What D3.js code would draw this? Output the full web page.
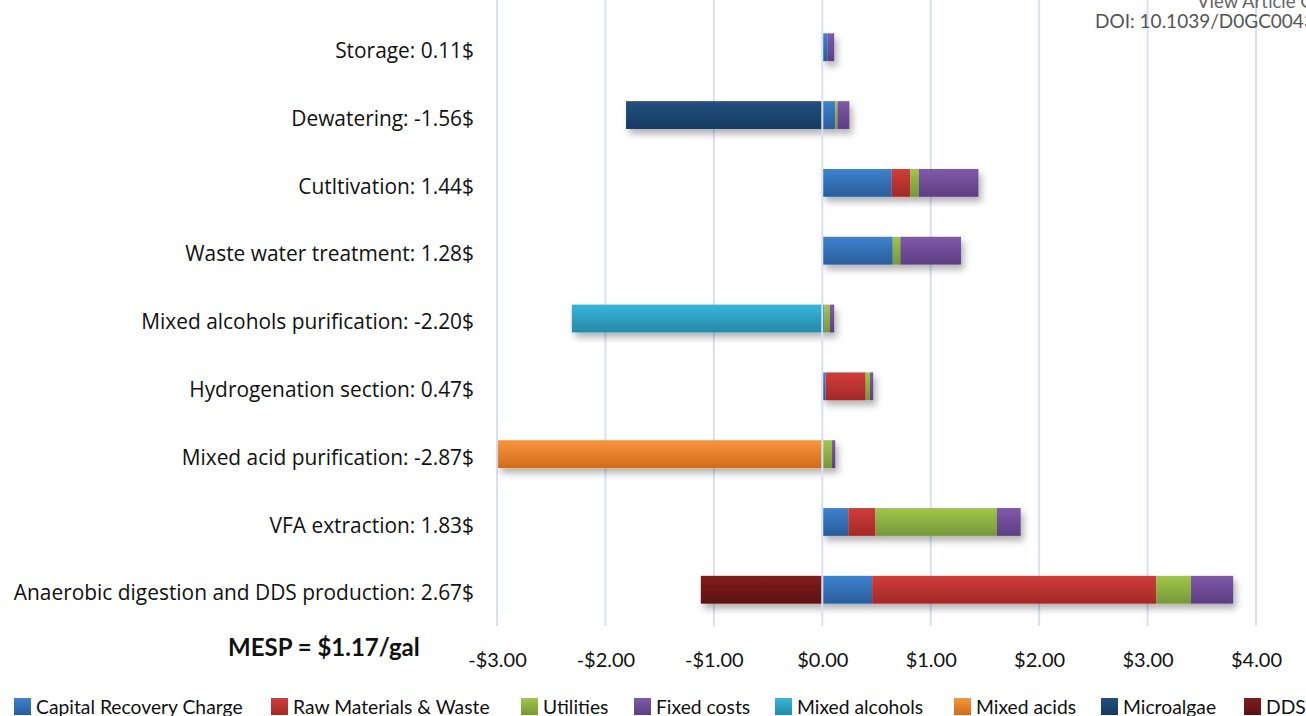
<!DOCTYPE html>
<html>
<head lang="en">
    <meta charset="UTF-8">
    <title>MESP breakdown</title>
    <script type="text/javascript" src="https://cdn.jsdelivr.net/npm/d3@7"></script>
    <style>
        body { margin: 0; background: #fff; }
    </style>
</head>
<body>
<svg id="mainSvg"></svg>
<script>
    var w = 1306, h = 716;

    var categories = ["Storage: 0.11$", "Dewatering: -1.56$", "Cutltivation: 1.44$", "Waste water treatment: 1.28$",
        "Mixed alcohols purification: -2.20$", "Hydrogenation section: 0.47$", "Mixed acid purification: -2.87$",
        "VFA extraction: 1.83$", "Anaerobic digestion and DDS production: 2.67$"];

    var capitalRecovery = [0.05, 0.12, 0.64, 0.65, 0.02, 0.03, 0.01, 0.24, 0.46];
    var rawMaterials    = [0,    0,    0.17, 0,    0,    0.37, 0,    0.25, 2.62];
    var utilities       = [0,    0.02, 0.08, 0.07, 0.05, 0.04, 0.08, 1.12, 0.32];
    var fixedCosts      = [0.06, 0.11, 0.55, 0.56, 0.04, 0.03, 0.03, 0.22, 0.39];
    var mixedAlcohols   = [0,    0,    0,    0,    -2.31, 0,   0,    0,    0];
    var mixedAcids      = [0,    0,    0,    0,    0,    0,    -2.99, 0,   0];
    var microalgae      = [0,    -1.81, 0,   0,    0,    0,    0,    0,    0];
    var dds             = [0,    0,    0,    0,    0,    0,    0,    0,    -1.12];

    var tickValues = [-3, -2, -1, 0, 1, 2, 3, 4];

    var seriesNames = ["Capital Recovery Charge", "Raw Materials & Waste", "Utilities", "Fixed costs",
        "Mixed alcohols", "Mixed acids", "Microalgae", "DDS"];
    var seriesValues = [capitalRecovery, rawMaterials, utilities, fixedCosts, mixedAlcohols, mixedAcids, microalgae, dds];
    var colorsTop = ["#3d82d0", "#d23c3a", "#9fc747", "#8059ab", "#36b6d8", "#f9963a", "#21507f", "#831d1d"];
    var colorsBot = ["#2a5c9a", "#a12a28", "#76973a", "#5c3f80", "#2789a8", "#cf6b1f", "#163a62", "#5a1111"];

    var table = categories.map(function (c, i) {
        var row = {cat: c};
        seriesNames.forEach(function (s, j) { row[s] = seriesValues[j][i]; });
        return row;
    });

    var stacked = d3.stack().keys(seriesNames).offset(d3.stackOffsetDiverging)(table);

    var svg = d3.select("#mainSvg").attr("width", w).attr("height", h)
        .style("font-family", "Lato, sans-serif");

    var defs = svg.append("defs");
    seriesNames.forEach(function (s, j) {
        var g = defs.append("linearGradient").attr("id", "grad" + j)
            .attr("x1", 0).attr("y1", 0).attr("x2", 0).attr("y2", 1);
        g.append("stop").attr("offset", "0%").attr("stop-color", colorsTop[j]);
        g.append("stop").attr("offset", "100%").attr("stop-color", colorsBot[j]);
    });
    var f = defs.append("filter").attr("id", "shadow")
        .attr("x", "-10%").attr("y", "-30%").attr("width", "120%").attr("height", "180%");
    f.append("feDropShadow").attr("dx", 3).attr("dy", 5).attr("stdDeviation", 3.5)
        .attr("flood-color", "#000").attr("flood-opacity", 0.3);

    var x = d3.scaleLinear().domain([-3, 4]).range([497, 1256]);
    var y = d3.scaleBand().domain(categories).range([13, 624]).paddingInner(0.59).paddingOuter(0.3);

    // gridlines
    svg.append("g").selectAll("line")
        .data(tickValues.filter(function (d) { return d !== 0; }))
        .enter().append("line")
        .attr("x1", function (d) { return x(d); })
        .attr("x2", function (d) { return x(d); })
        .attr("y1", 0).attr("y2", 626)
        .attr("stroke", "#d6e2f3").attr("stroke-width", 2);

    // bars
    var bars = svg.append("g").attr("filter", "url(#shadow)");
    bars.selectAll("g")
        .data(stacked)
        .enter().append("g")
        .attr("fill", function (d, i) { return "url(#grad" + i + ")"; })
        .selectAll("rect")
        .data(function (d) { return d.filter(function (p) { return p[1] - p[0] !== 0; }); })
        .enter().append("rect")
        .attr("x", function (d) { return x(Math.min(d[0], d[1])); })
        .attr("width", function (d) { return Math.abs(x(d[1]) - x(d[0])); })
        .attr("y", function (d) { return y(d.data.cat); })
        .attr("height", y.bandwidth());

    // zero line over the bars
    svg.append("line")
        .attr("x1", x(0)).attr("x2", x(0))
        .attr("y1", 0).attr("y2", 626)
        .attr("stroke", "#d6e2f3").attr("stroke-width", 2);

    // category labels
    var yAxis = d3.axisLeft(y).tickSize(0).tickPadding(0);
    var yg = svg.append("g").attr("transform", "translate(474,4)").call(yAxis);
    yg.select(".domain").remove();
    yg.selectAll("text")
        .attr("font-family", "'Open Sans', sans-serif")
        .attr("font-size", 20.9).attr("fill", "#111");

    // x axis labels
    var xAxis = d3.axisBottom(x).tickValues(tickValues).tickSize(0).tickPadding(0)
        .tickFormat(function (d) { return (d < 0 ? "-$" : "$") + Math.abs(d).toFixed(2); });
    var xg = svg.append("g").attr("transform", "translate(0,653)").call(xAxis);
    xg.select(".domain").remove();
    xg.selectAll("text")
        .attr("font-family", "Lato, sans-serif")
        .attr("font-size", 20).attr("fill", "#111");

    svg.append("text")
        .attr("x", 228).attr("y", 656)
        .attr("font-size", 24).attr("font-weight", "bold").attr("fill", "#111")
        .text("MESP = $1.17/gal");

    // watermark
    svg.append("text").attr("x", 1197).attr("y", 8)
        .attr("font-size", 18.5).attr("fill", "#666").text("View Article Online");
    svg.append("text").attr("x", 1095).attr("y", 28)
        .attr("font-size", 19).attr("fill", "#555").text("DOI: 10.1039/D0GC00434J");

    // legend
    var legendX = [14, 271, 521, 634, 775, 954, 1101, 1244];
    var lg = svg.append("g").selectAll("g")
        .data(seriesNames)
        .enter().append("g")
        .attr("transform", function (d, i) { return "translate(" + legendX[i] + ",698)"; });
    lg.append("rect").attr("width", 17).attr("height", 17)
        .attr("fill", function (d, i) { return "url(#grad" + i + ")"; });
    lg.append("text").attr("x", 22).attr("y", 16)
        .attr("font-size", 19.3).attr("fill", "#111")
        .text(function (d) { return d; });
</script>
</body>
</html>
